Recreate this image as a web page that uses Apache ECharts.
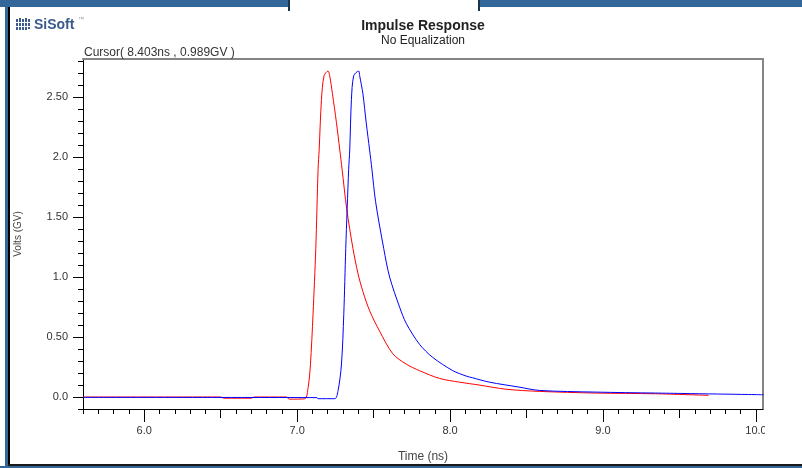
<!DOCTYPE html>
<html>
<head>
<meta charset="utf-8">
<script src="https://cdn.jsdelivr.net/npm/echarts@6/dist/echarts.min.js"></script>
<style>
html,body{margin:0;padding:0;background:#fff;}
#chart{width:802px;height:468px;}
</style>
</head>
<body>
<div id="chart"></div>
<script>
// ---- data ----
var redTime = [5.6, 6.5, 6.52, 6.7, 6.72, 6.93, 6.95, 7.05, 7.072, 7.087, 7.104, 7.122, 7.137, 7.144, 7.159, 7.176, 7.202, 7.213, 7.231, 7.257, 7.279, 7.294, 7.324, 7.365, 7.398, 7.43, 7.474, 7.539, 7.626, 7.713, 7.8, 7.931, 8.061, 8.19, 8.366, 8.583, 8.953, 9.344, 9.69];
var redVolt = [0, 0, -0.01, -0.01, 0, 0, -0.018, -0.015, 0.08, 0.27, 0.69, 1.24, 1.9, 2.06, 2.48, 2.68, 2.72, 2.68, 2.53, 2.29, 2.06, 1.9, 1.57, 1.24, 1.03, 0.88, 0.72, 0.55, 0.36, 0.275, 0.22, 0.155, 0.124, 0.1, 0.065, 0.047, 0.033, 0.027, 0.014];
var blueTime = [5.6, 7.13, 7.135, 7.246, 7.268, 7.29, 7.305, 7.318, 7.337, 7.344, 7.355, 7.37, 7.402, 7.409, 7.43, 7.452, 7.474, 7.489, 7.513, 7.566, 7.605, 7.67, 7.713, 7.8, 7.887, 8.018, 8.105, 8.148, 8.257, 8.45, 8.583, 8.953, 9.344, 10.05];
var blueVolt = [-0.003, -0.005, -0.014, -0.014, 0.055, 0.275, 0.688, 1.24, 1.9, 2.06, 2.48, 2.68, 2.72, 2.68, 2.53, 2.285, 2.06, 1.9, 1.63, 1.24, 1.0, 0.75, 0.615, 0.44, 0.33, 0.22, 0.175, 0.16, 0.124, 0.083, 0.055, 0.041, 0.033, 0.019];

var xMajorTicks = [6, 7, 8, 9, 10];
var xMajorLabels = ['6.0', '7.0', '8.0', '9.0', '10.0'];
var xMediumTicks = [6.5, 7.5, 8.5, 9.5];
var yMajorTicks = [0, 0.5, 1, 1.5, 2, 2.5];
var yMajorLabels = ['0.0', '0.50', '1.0', '1.50', '2.0', '2.50'];

var titleText = 'Impulse Response';
var subtitleText = 'No Equalization';
var cursorText = 'Cursor( 8.403ns , 0.989GV )';
var xName = 'Time (ns)';
var yName = 'Volts (GV)';

// ---- build ----
function pairs(xs, ys){ var o=[]; for (var i=0;i<xs.length;i++) o.push([xs[i], ys[i]]); return o; }
var xMinorTicks = []; for (var k=56;k<=100;k++) xMinorTicks.push(k/10);
var yMinorTicks = []; for (var j=-1;j<=28;j++) yMinorTicks.push(j/10);

var XMIN = 5.6, XMAX = 10.046, YMIN = -0.1, YMAX = 2.82;
var FONT = 'Liberation Sans, Arial, sans-serif';
var FRAME = '#336699';

function baseX(extra){
  var a = {type:'value', min:XMIN, max:XMAX, position:'bottom', splitLine:{show:false},
    axisLine:{show:false, onZero:false}, axisLabel:{show:false}, axisTick:{show:false}};
  for (var key in extra) a[key]=extra[key];
  return a;
}
function baseY(extra){
  var a = {type:'value', min:YMIN, max:YMAX, position:'left', splitLine:{show:false},
    axisLine:{show:false, onZero:false}, axisLabel:{show:false}, axisTick:{show:false}};
  for (var key in extra) a[key]=extra[key];
  return a;
}

var chart = echarts.init(document.getElementById('chart'), null, {renderer:'canvas'});
chart.setOption({
  animation:false,
  backgroundColor:'#ffffff',
  grid:{left:83, right:39, top:59, bottom:55, show:false},
  xAxis:[
    baseX({
      axisLine:{show:true, onZero:false, lineStyle:{color:'#000', width:1}},
      axisTick:{show:true, customValues:xMinorTicks, length:5, lineStyle:{color:'#000'}},
      axisLabel:{show:true, customValues:xMajorTicks, margin:16, color:'#333', fontSize:11, fontFamily:FONT,
        formatter:function(v){ var i = xMajorTicks.indexOf(Math.round(v*10)/10); return i>=0 ? xMajorLabels[i] : ''; }},
      name:xName, nameLocation:'middle', nameGap:42,
      nameTextStyle:{color:'#444', fontSize:12, fontFamily:FONT}
    }),
    baseX({axisTick:{show:true, customValues:xMediumTicks, length:9, lineStyle:{color:'#000'}}}),
    baseX({axisTick:{show:true, customValues:xMajorTicks, length:13, lineStyle:{color:'#000'}}}),
    baseX({position:'top', axisLine:{show:true, onZero:false, lineStyle:{color:'#858585', width:2}}})
  ],
  yAxis:[
    baseY({
      axisLine:{show:true, onZero:false, lineStyle:{color:'#000', width:1}},
      axisTick:{show:true, customValues:yMinorTicks, length:5, lineStyle:{color:'#000'}},
      axisLabel:{show:true, customValues:yMajorTicks, margin:15, color:'#333', fontSize:11, fontFamily:FONT,
        formatter:function(v){ var i = yMajorTicks.indexOf(Math.round(v*10)/10); return i>=0 ? yMajorLabels[i] : ''; }},
      name:yName, nameLocation:'middle', nameGap:60,
      nameTextStyle:{color:'#444', fontSize:10, fontFamily:FONT}
    }),
    baseY({axisTick:{show:true, customValues:yMajorTicks, length:10, lineStyle:{color:'#000'}}}),
    baseY({position:'right', axisLine:{show:true, onZero:false, lineStyle:{color:'#858585', width:2}}})
  ],
  series:[
    {type:'line', name:'red', xAxisIndex:0, yAxisIndex:0, data:pairs(redTime, redVolt),
      smooth:0.3,
      showSymbol:false, symbol:'none', lineStyle:{color:'#ff0000', width:1}, itemStyle:{color:'#ff0000'}, z:2},
    {type:'line', name:'blue', xAxisIndex:0, yAxisIndex:0, data:pairs(blueTime, blueVolt),
      smooth:0.3,
      showSymbol:false, symbol:'none', lineStyle:{color:'#0000ff', width:1}, itemStyle:{color:'#0000ff'}, z:3}
  ],
  graphic:[
    // hide overflow of the last x label beyond plot edge
    {type:'rect', z:100, shape:{x:765, y:415, width:37, height:35}, style:{fill:'#ffffff'}},
    // frame
    {type:'rect', z:101, shape:{x:0, y:0, width:289, height:7}, style:{fill:FRAME}},
    {type:'rect', z:101, shape:{x:479, y:0, width:323, height:7}, style:{fill:FRAME}},
    {type:'rect', z:101, shape:{x:288, y:0, width:2, height:11}, style:{fill:'#1d3550'}},
    {type:'rect', z:101, shape:{x:478, y:0, width:2, height:11}, style:{fill:'#1d3550'}},
    {type:'rect', z:101, shape:{x:5, y:0, width:3, height:468}, style:{fill:FRAME}},
    {type:'rect', z:101, shape:{x:8, y:7, width:2, height:459}, style:{fill:'#000'}},
    {type:'rect', z:101, shape:{x:8, y:464, width:794, height:2}, style:{fill:'#1a1a1a'}},
    {type:'rect', z:101, shape:{x:0, y:466, width:802, height:2}, style:{fill:FRAME}},
    // logo
    {type:'group', z:101, children:[
      {type:'rect', shape:{x:16, y:19, width:2, height:11}, style:{fill:'#3a5a8c'}},
      {type:'rect', shape:{x:19, y:18, width:2, height:12}, style:{fill:'#3a5a8c'}},
      {type:'rect', shape:{x:22, y:19, width:2, height:11}, style:{fill:'#3a5a8c'}},
      {type:'rect', shape:{x:25, y:18, width:2, height:12}, style:{fill:'#3a5a8c'}},
      {type:'rect', shape:{x:28, y:19, width:2, height:10}, style:{fill:'#3a5a8c'}},
      {type:'rect', shape:{x:15, y:22, width:16, height:1}, style:{fill:'#ffffff'}},
      {type:'rect', shape:{x:15, y:26, width:16, height:1}, style:{fill:'#ffffff'}}
    ]},
    {type:'text', z:101, style:{x:34, y:25, text:'SiSoft', fill:'#3a5a8c', font:'bold 14px '+FONT, textVerticalAlign:'middle'}},
    {type:'text', z:101, style:{x:78, y:19, text:'\u2122', fill:'#8899aa', font:'6px '+FONT, textVerticalAlign:'middle'}},
    // title
    {type:'text', z:101, style:{x:423, y:26, text:titleText, fill:'#222', font:'bold 14px '+FONT, textAlign:'center', textVerticalAlign:'middle'}},
    {type:'text', z:101, style:{x:423, y:41, text:subtitleText, fill:'#222', font:'12px '+FONT, textAlign:'center', textVerticalAlign:'middle'}},
    // cursor readout
    {type:'text', z:101, style:{x:84, y:53, text:cursorText, fill:'#333', font:'12px '+FONT, textVerticalAlign:'middle'}}
  ]
});
</script>
</body>
</html>
